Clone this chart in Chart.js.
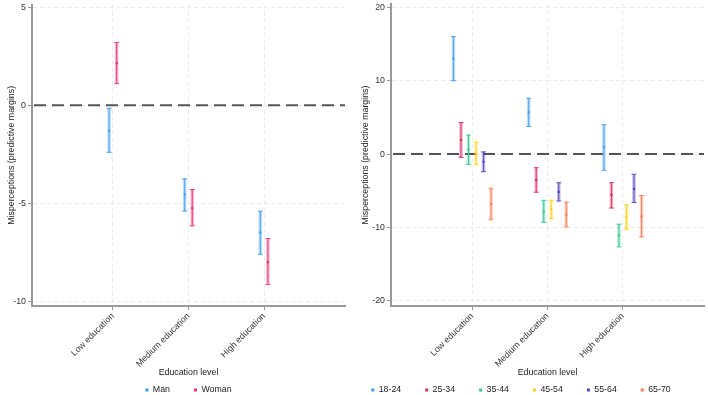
<!DOCTYPE html>
<html>
<head>
<meta charset="utf-8">
<script src="https://cdn.jsdelivr.net/npm/chart.js@4.4.1/dist/chart.umd.min.js"></script>
<style>
  body { margin: 0; background: #fff; }
  #wrap { display: flex; width: 708px; height: 395px; }
  .panel { position: relative; width: 354px; height: 395px; }
</style>
</head>
<body>
<div id="wrap">
  <div class="panel"><canvas id="left" width="354" height="395"></canvas></div>
  <div class="panel"><canvas id="right" width="354" height="395"></canvas></div>
</div>
<script>
// categories on the x axis
var categories = ['Low education', 'Medium education', 'High education'];

// left panel: gender
var genderLabels = ['Man', 'Woman'];
var manMean  = [-1.3, -4.55, -6.5];
var manLow   = [-2.4, -5.4, -7.6];
var manHigh  = [-0.15, -3.75, -5.4];
var womanMean = [2.15, -5.25, -8.0];
var womanLow  = [1.1, -6.15, -9.15];
var womanHigh = [3.2, -4.3, -6.8];
var leftTicks = [5, 0, -5, -10];

// right panel: age groups (one row per group, one column per category)
var ageLabels = ['18-24', '25-34', '35-44', '45-54', '55-64', '65-70'];
var ageMean = [
  [13.0, 5.7, 0.95],
  [1.9, -3.55, -5.55],
  [0.6, -7.85, -11.1],
  [0.1, -7.5, -8.55],
  [-1.05, -5.15, -4.75],
  [-6.8, -8.25, -8.5]
];
var ageLow = [
  [10.0, 3.75, -2.2],
  [-0.45, -5.2, -7.35],
  [-1.4, -9.3, -12.65],
  [-1.4, -8.8, -10.25],
  [-2.4, -6.4, -6.6],
  [-8.95, -9.95, -11.3]
];
var ageHigh = [
  [16.0, 7.6, 4.0],
  [4.3, -1.85, -3.9],
  [2.6, -6.3, -9.55],
  [1.65, -6.3, -6.9],
  [0.3, -3.9, -2.75],
  [-4.65, -6.55, -5.65]
];
var rightTicks = [20, 10, 0, -10, -20];

var genderColors = ['#3d9cf0', '#e63470'];
var ageColors = ['#3d9cf0', '#dc2c5e', '#34c88e', '#ffd21a', '#5a3ebf', '#ff7a4d'];

var font = "'Liberation Sans', Arial, sans-serif";
var fs = 8.8;

// draws the dashed zero line and the confidence intervals
var errorBars = {
  id: 'errorBars',
  beforeDatasetsDraw: function(chart) {
    var ctx = chart.ctx, xs = chart.scales.x, ys = chart.scales.y, a = chart.chartArea;
    ctx.save();
    var y0 = ys.getPixelForValue(0);
    ctx.strokeStyle = '#555';
    ctx.lineWidth = 2;
    ctx.setLineDash([12, 6]);
    ctx.beginPath();
    ctx.moveTo(a.left + 2, y0);
    ctx.lineTo(a.right, y0);
    ctx.stroke();
    ctx.setLineDash([]);
    chart.data.datasets.forEach(function(ds) {
      ds.data.forEach(function(p, j) {
        var x = xs.getPixelForValue(p.x);
        var yl = ys.getPixelForValue(ds.lows[j]);
        var yh = ys.getPixelForValue(ds.highs[j]);
        ctx.strokeStyle = ds.borderColor;
        ctx.globalAlpha = 0.35;
        ctx.lineWidth = 3.5;
        ctx.beginPath(); ctx.moveTo(x, yl); ctx.lineTo(x, yh); ctx.stroke();
        ctx.globalAlpha = 0.9;
        ctx.lineWidth = 1;
        ctx.beginPath();
        ctx.moveTo(x, yl); ctx.lineTo(x, yh);
        ctx.moveTo(x - 2.5, yl); ctx.lineTo(x + 2.5, yl);
        ctx.moveTo(x - 2.5, yh); ctx.lineTo(x + 2.5, yh);
        ctx.stroke();
      });
    });
    ctx.restore();
  }
};

function makeSet(label, color, mean, low, high, offset) {
  return {
    label: label,
    data: categories.map(function(c, i) { return { x: i + 1 + offset, y: mean[i] }; }),
    lows: low,
    highs: high,
    borderColor: color,
    backgroundColor: color,
    pointStyle: 'rect',
    pointRadius: 1.5,
    pointBorderWidth: 0
  };
}

// padLeft shifts the legend centre; the y axis box absorbs it (yWidth, titleShift)
function makeOptions(yMin, yMax, yTicks, yWidth, xMin, xMax, padTop, padLeft, padRight, legendFull) {
  return {
    responsive: false,
    animation: false,
    layout: { padding: { top: padTop, right: padRight, left: padLeft, bottom: 0 } },
    plugins: {
      tooltip: { enabled: false },
      legend: {
        position: 'bottom',
        fullSize: legendFull,
        maxHeight: 33.4,
        labels: {
          usePointStyle: true,
          boxWidth: 3,
          boxHeight: 3,
          padding: 24,
          color: '#222',
          font: { family: font, size: fs }
        }
      }
    },
    scales: {
      x: {
        type: 'linear',
        min: xMin,
        max: xMax,
        afterBuildTicks: function(s) { s.ticks = [{ value: 1 }, { value: 2 }, { value: 3 }]; },
        afterFit: function(s) {
          s.height = 55.6; s.paddingLeft = 0; s.paddingRight = 0;
          s._computeLabelArea = function() { return undefined; };
        },
        ticks: {
          minRotation: 45,
          maxRotation: 45,
          color: '#333',
          font: { family: font, size: fs },
          padding: 1,
          callback: function(v) { return categories[v - 1]; }
        },
        grid: { color: '#ebebeb', tickColor: '#999', tickLength: 4 },
        border: { display: true, color: '#999', width: 2, dash: [4, 3] },
        title: { display: true, text: 'Education level', color: '#222', font: { family: font, size: fs }, padding: { top: 0, bottom: -16 } }
      },
      y: {
        min: yMin,
        max: yMax,
        afterBuildTicks: function(s) { s.ticks = yTicks.map(function(v) { return { value: v }; }); },
        afterFit: function(s) { s.width = yWidth - padLeft; s.paddingTop = 0; s.paddingBottom = 0; },
        ticks: { color: '#333', font: { family: font, size: fs }, padding: 2 },
        grid: { color: '#ebebeb', tickColor: '#999', tickLength: 4 },
        border: { display: true, color: '#999', width: 2, dash: [4, 3] },
        title: { display: true, text: 'Misperceptions (predictive margins)', color: '#222', font: { family: font, size: fs }, padding: { top: 6 - padLeft, bottom: 0 } }
      }
    }
  };
}

new Chart(document.getElementById('left'), {
  type: 'scatter',
  data: {
    datasets: [
      makeSet(genderLabels[0], genderColors[0], manMean, manLow, manHigh, -0.05),
      makeSet(genderLabels[1], genderColors[1], womanMean, womanLow, womanHigh, 0.05)
    ]
  },
  options: makeOptions(-10.24, 5.13, leftTicks, 32, -0.07, 4.07, 4.7, 0, 9, false),
  plugins: [errorBars]
});

var ageOffsets = [-0.25, -0.15, -0.05, 0.05, 0.15, 0.25];
new Chart(document.getElementById('right'), {
  type: 'scatter',
  data: {
    datasets: ageLabels.map(function(lab, k) {
      return makeSet(lab, ageColors[k], ageMean[k], ageLow[k], ageHigh[k], ageOffsets[k]);
    })
  },
  options: makeOptions(-20.7, 20.45, rightTicks, 37, -0.08, 4.08, 4, -18, 2, true),
  plugins: [errorBars]
});
</script>
</body>
</html>
